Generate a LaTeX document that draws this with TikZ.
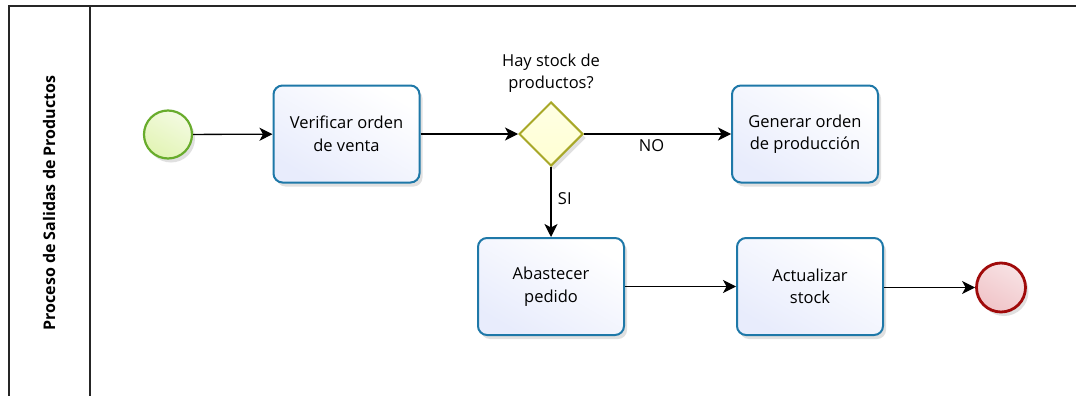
\documentclass[tikz,border=0pt]{standalone}
\usepackage{fontspec}
\setmainfont{Open Sans}
\usetikzlibrary{arrows.meta,shapes.geometric,shadows}
\definecolor{taskline}{RGB}{30,120,168}
\definecolor{taskfill}{RGB}{232,236,252}
\definecolor{startline}{RGB}{104,172,44}
\definecolor{startfill}{RGB}{226,244,180}
\definecolor{gateline}{RGB}{168,168,40}
\definecolor{gatefill}{RGB}{255,255,210}
\definecolor{endline}{RGB}{160,10,10}
\definecolor{endfill}{RGB}{240,196,200}
\newcommand{\bpmnfont}{\fontsize{16.5}{22.5}\selectfont}
\tikzset{
  softshadow/.style={drop shadow={opacity=0.2,shadow xshift=3pt,shadow yshift=-4pt,fill=black!60}},
  task/.style={draw=taskline,line width=2pt,rounded corners=9pt,
    minimum width=146pt,minimum height=97pt,align=center,
    top color=white,bottom color=taskfill,shading angle=-30,
    font=\bpmnfont,softshadow},
  startev/.style={circle,draw=startline,line width=2.2pt,minimum size=48pt,inner sep=0pt,
    top color=white!60!startfill,bottom color=startfill,shading angle=-30,softshadow},
  endev/.style={circle,draw=endline,line width=2.8pt,minimum size=49pt,inner sep=0pt,
    top color=white!50!endfill,bottom color=endfill,shading angle=-30,softshadow},
  gateway/.style={diamond,draw=gateline,line width=2pt,minimum width=64pt,minimum height=64pt,
    inner sep=0pt,top color=white!40!gatefill,bottom color=gatefill,softshadow},
  flow/.style={draw=black,line width=1.3pt,-{Stealth[length=13pt,width=13pt,inset=3.5pt]}},
  lbl/.style={font=\bpmnfont,align=center},
  pool/.style={draw=black!85,line width=1.8pt}
}
\begin{document}
\begin{tikzpicture}[x=1pt,y=-1pt]
  \useasboundingbox (0,0) rectangle (1076,396);
  \fill[white] (0,0) rectangle (1076,396);

  % pool frame and lane header
  \draw[pool] (1076,6) -- (9,6) -- (9,398);
  \draw[pool] (90,6) -- (90,398);
  \node[rotate=90,font=\fontsize{16}{18}\selectfont\bfseries] (lane) at (49,203)
    {Proceso de Salidas de Productos};

  % flow elements
  \node[startev] (start) at (168,134.5) {};
  \node[task] (verif) at (346.5,134) {Verificar orden\\de venta};
  \node[gateway] (gw) at (551,134) {};
  \node[lbl] (gwq) at (551,73) {Hay stock de\\productos?};
  \node[task] (gen) at (805,134) {Generar orden\\de producción};
  \node[task] (abas) at (551,286.5) {Abastecer\\pedido};
  \node[task] (act) at (810,286.5) {Actualizar\\stock};
  \node[endev] (fin) at (1001,287.5) {};

  % sequence flows
  \draw[flow] (start) -- (verif);
  \draw[flow] (verif) -- (gw);
  \draw[flow] (gw.east) -- node[lbl,pos=0.46,below=2pt] (no) {NO} (gen.west |- gw.east);
  \draw[flow] (gw.south) -- node[lbl,pos=0.45,right=3pt] (si) {SI} (abas.north);
  \draw[flow] (abas) -- (act);
  \draw[flow] (act.east |- fin) -- (fin);
\end{tikzpicture}
\end{document}
